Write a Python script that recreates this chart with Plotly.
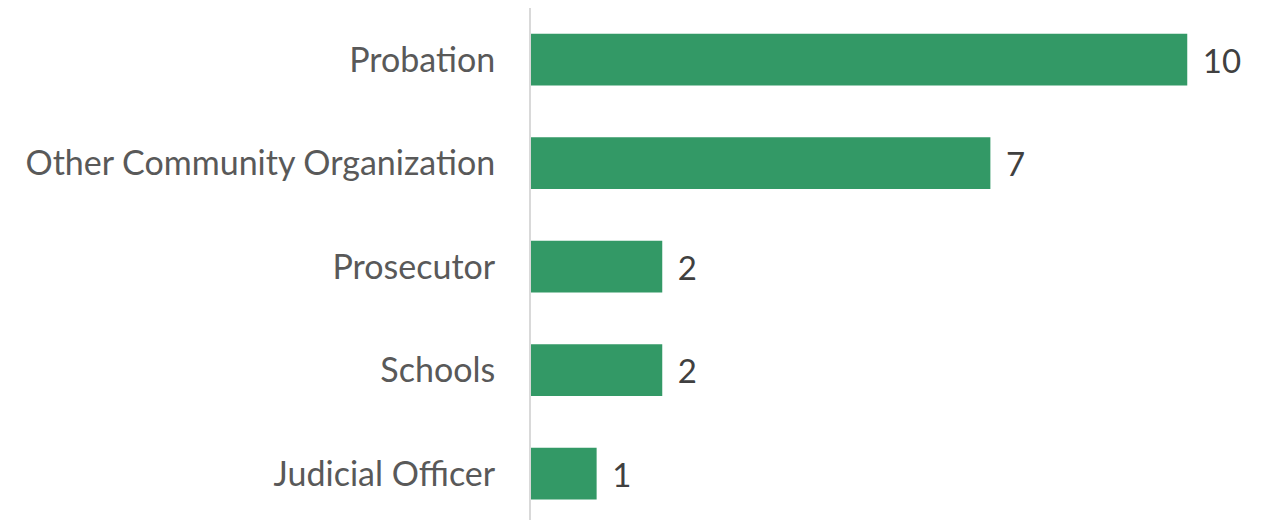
import plotly.graph_objects as go

# bottom to top, as plotly lists categories
categories = ["Judicial Officer", "Schools", "Prosecutor",
              "Other Community Organization", "Probation"]
counts = [1, 2, 2, 7, 10]

BAR_GREEN = "#339966"

fig = go.Figure()
fig.add_trace(go.Bar(
    x=counts,
    y=categories,
    orientation="h",
    marker=dict(color=BAR_GREEN, line=dict(width=0)),
    text=counts,
    texttemplate="\u00a0\u2009%{text}",
    textposition="outside",
    textfont=dict(family="Lato", size=33, color="#404040"),
    cliponaxis=False,
    hoverinfo="skip",
))

# page has an 8px body margin, so the figure is shifted by 8px
fig.update_layout(
    width=1258, height=512,
    margin=dict(l=523, r=0, t=0, b=0),
    paper_bgcolor="white",
    plot_bgcolor="white",
    bargap=0.5,
    showlegend=False,
    font=dict(family="Lato", size=34, color="#595959"),
)
fig.update_xaxes(range=[0, 11.2], visible=False)
fig.update_yaxes(
    categoryorder="array", categoryarray=categories,
    range=[-0.447, 4.5],
    showline=True, linecolor="#d9d9d9", linewidth=2,
    showgrid=False, zeroline=False,
    ticks="", ticklabelstandoff=27,
    tickfont=dict(family="Lato", size=34, color="#595959"),
)

fig.write_html("out.html")
